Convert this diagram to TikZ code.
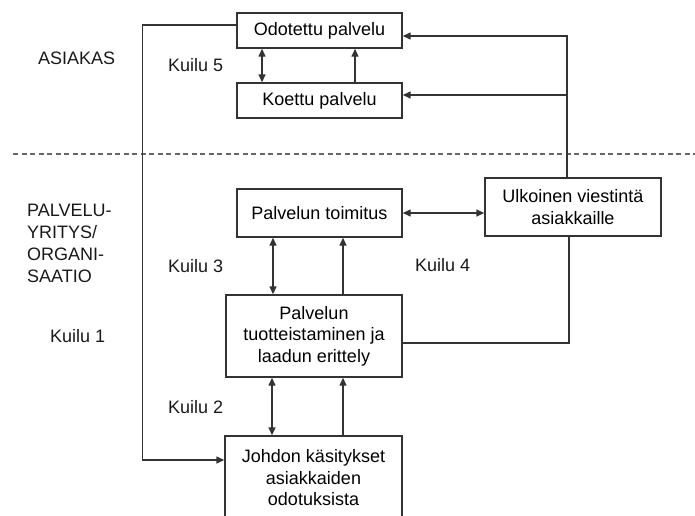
\documentclass[tikz,border=0pt]{standalone}
\usepackage{fontspec}
\setmainfont{Liberation Sans}
\usetikzlibrary{arrows.meta}

\begin{document}
\begin{tikzpicture}[x=1pt,y=-1pt,
  laatikko/.style={draw=black!80, line width=1.4pt, align=center, inner sep=0pt,
    font=\fontsize{18}{21.5}\selectfont},
  teksti/.style={anchor=west, align=left, inner sep=0pt, text=black!90,
    font=\fontsize{18}{22}\selectfont},
  viiva/.style={draw=black!80, line width=1.4pt},
  nuoli/.style={viiva, -{Triangle[length=8pt,width=7pt]}},
  kaksi/.style={viiva, {Triangle[length=8pt,width=7pt]}-{Triangle[length=8pt,width=7pt]}}]
\clip (0,0) rectangle (695,515);
%
% asiakas
\node[laatikko, minimum width=165pt, minimum height=35pt] (odot) at (319.5,30.5) {Odotettu palvelu};
\node[laatikko, minimum width=165pt, minimum height=35pt] (koet) at (319.5,100.5) {Koettu palvelu};
\node[teksti] (asiakas) at (38,58) {ASIAKAS};
\node[teksti] (k5) at (168,65) {Kuilu 5};

% raja
\draw[draw=black!60, line width=1.2pt, dash pattern=on 5pt off 3.5pt] (13,154) -- (695,154);

% palveluyritys
\node[laatikko, minimum width=165pt, minimum height=48pt] (toim) at (319.5,213) {Palvelun toimitus};
\node[laatikko, minimum width=176pt, minimum height=58pt] (ulk) at (573,207) {Ulkoinen viestintä\\asiakkaille};
\node[laatikko, minimum width=176pt, minimum height=82pt] (tuot) at (314,336) {Palvelun\\tuotteistaminen ja\\laadun erittely};
\node[laatikko, minimum width=177pt, minimum height=84pt] (joht) at (313.5,478) {Johdon käsitykset\\asiakkaiden\\odotuksista};

\node[teksti] (yritys) at (27,243.5) {PALVELU-\\YRITYS/\\ORGANI-\\SAATIO};
\node[teksti] (k3) at (168,266) {Kuilu 3};
\node[teksti] (k4) at (415,265) {Kuilu 4};
\node[teksti] (k1) at (50,336) {Kuilu 1};
\node[teksti] (k2) at (168,407) {Kuilu 2};

% nuolet
\draw[kaksi] ([xshift=-57.5pt]odot.south) -- ([xshift=-57.5pt]koet.north);
\draw[nuoli] ([xshift=35.5pt]koet.north) -- ([xshift=35.5pt]odot.south);
\draw[kaksi] ([xshift=-46.5pt]toim.south) -- ([xshift=-41pt]tuot.north);
\draw[nuoli] ([xshift=29pt]tuot.north) -- ([xshift=23.5pt]toim.south);
\draw[kaksi] ([xshift=-42pt]tuot.south) -- ([xshift=-41.5pt]joht.north);
\draw[nuoli] ([xshift=29.5pt]joht.north) -- ([xshift=29pt]tuot.south);
\draw[kaksi] (toim.east) -- (toim.east -| ulk.west);

% palaute
\draw[nuoli] ([yshift=5.5pt]odot.west) -- ++(-94,0) |- ([yshift=18pt]joht.west);
\draw[nuoli] ([xshift=-6pt]ulk.north) |- ([yshift=-5.5pt]odot.east);
\draw[nuoli] ([xshift=-6pt]ulk.north) |- ([yshift=5.5pt]koet.east);
\draw[viiva] ([xshift=-4pt]ulk.south) |- ([yshift=-7pt]tuot.east);

\end{tikzpicture}
\end{document}
